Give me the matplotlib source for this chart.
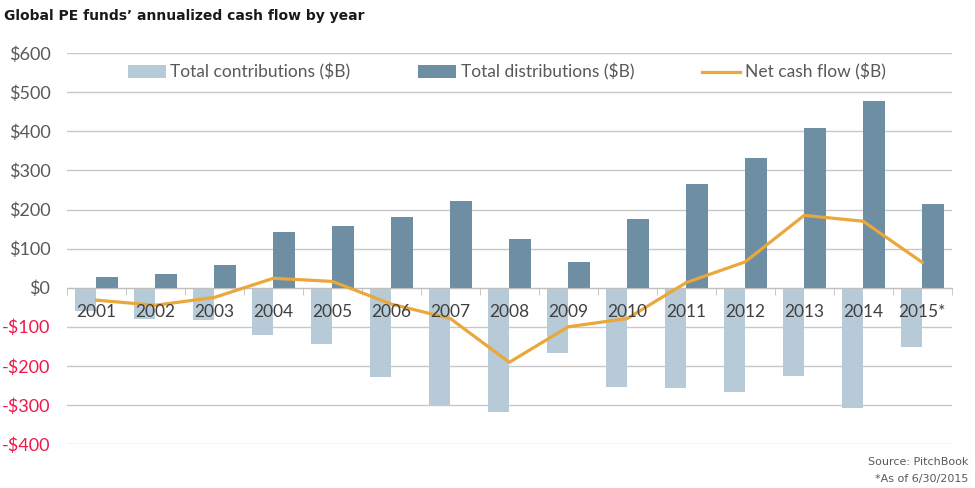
import matplotlib.pyplot as plt
import numpy as np
from matplotlib.ticker import FixedLocator

plt.rcParams['font.family'] = ['Lato', 'DejaVu Sans']

years = ['2001', '2002', '2003', '2004', '2005', '2006', '2007', '2008',
         '2009', '2010', '2011', '2012', '2013', '2014', '2015*']
contributions = [-60, -81, -83, -121, -143, -229, -301, -317,
                 -167, -253, -256, -268, -226, -309, -152]
distributions = [27, 34, 59, 143, 158, 181, 222, 125,
                 66, 176, 264, 332, 408, 477, 215]
net_flow = [-32, -45, -25, 24, 16, -42, -79, -191,
            -100, -79, 13, 66, 185, 170, 65]
y_ticks = [-400, -300, -200, -100, 0, 100, 200, 300, 400, 500, 600]

c_contrib = '#b7cad8'
c_dist = '#6e8ea3'
c_net = '#eaa73a'

fig = plt.figure(figsize=(9.75, 4.88), dpi=100)
ax = fig.add_axes([0.0687, 0.0902, 0.9073, 0.8008])

x = np.arange(len(years))
w = 0.365
b1 = ax.bar(x - w / 2, contributions, w, color=c_contrib, label='Total contributions ($B)', zorder=2)
b2 = ax.bar(x + w / 2, distributions, w, color=c_dist, label='Total distributions ($B)', zorder=2)
l1, = ax.plot(x, net_flow, color=c_net, lw=2.3, label='Net cash flow ($B)', zorder=3)

ax.set_xlim(-0.5, len(years) - 0.5)
ax.set_ylim(-400, 600)
ax.set_yticks(y_ticks)
ax.set_yticklabels([f'${v}' if v >= 0 else f'-${-v}' for v in y_ticks], fontsize=13)
for lab, v in zip(ax.get_yticklabels(), y_ticks):
    lab.set_color('#595959' if v >= 0 else '#f0174a')
ax.tick_params(axis='y', length=0, pad=12)
ax.grid(axis='y', color='#c8c8c8', lw=1, zorder=0)

# x axis sits on the zero line
for s in ['top', 'right', 'left']:
    ax.spines[s].set_visible(False)
ax.spines['bottom'].set_position(('data', 0))
ax.spines['bottom'].set_color('#bfbfbf')
ax.set_xticks(x)
ax.set_xticklabels([])
ax.tick_params(axis='x', which='major', length=0)
ax.xaxis.set_minor_locator(FixedLocator(np.arange(-0.5, len(years), 1.0)))
ax.tick_params(axis='x', which='minor', length=5, color='#bfbfbf', direction='out')

# year labels drawn over the bars, just under the zero line
for xi, yr in zip(x, years):
    ax.annotate(yr, (xi, 0), xytext=(0, -12), textcoords='offset points',
                ha='center', va='top', fontsize=12.5, color='#404040', zorder=4)

leg = ax.legend([b1, b2, l1], [b1.get_label(), b2.get_label(), l1.get_label()],
                loc='center', bbox_to_anchor=(0.497, 0.951), ncol=3, frameon=False,
                fontsize=12.5, handlelength=2.2, handleheight=0.75, columnspacing=3.9,
                handletextpad=0.25)
for t in leg.get_texts():
    t.set_color('#595959')

fig.text(0.004, 0.968, 'Global PE funds\u2019 annualized cash flow by year',
         fontsize=10, fontweight='bold', color='#1a1a1a', va='center',
         family='DejaVu Sans')
fig.text(0.993, 0.053, 'Source: PitchBook', fontsize=8, color='#595959',
         ha='right', va='center', family='DejaVu Sans')
fig.text(0.993, 0.019, '*As of 6/30/2015', fontsize=8, color='#595959',
         ha='right', va='center', family='DejaVu Sans')

fig.savefig('out.png', dpi=100)
